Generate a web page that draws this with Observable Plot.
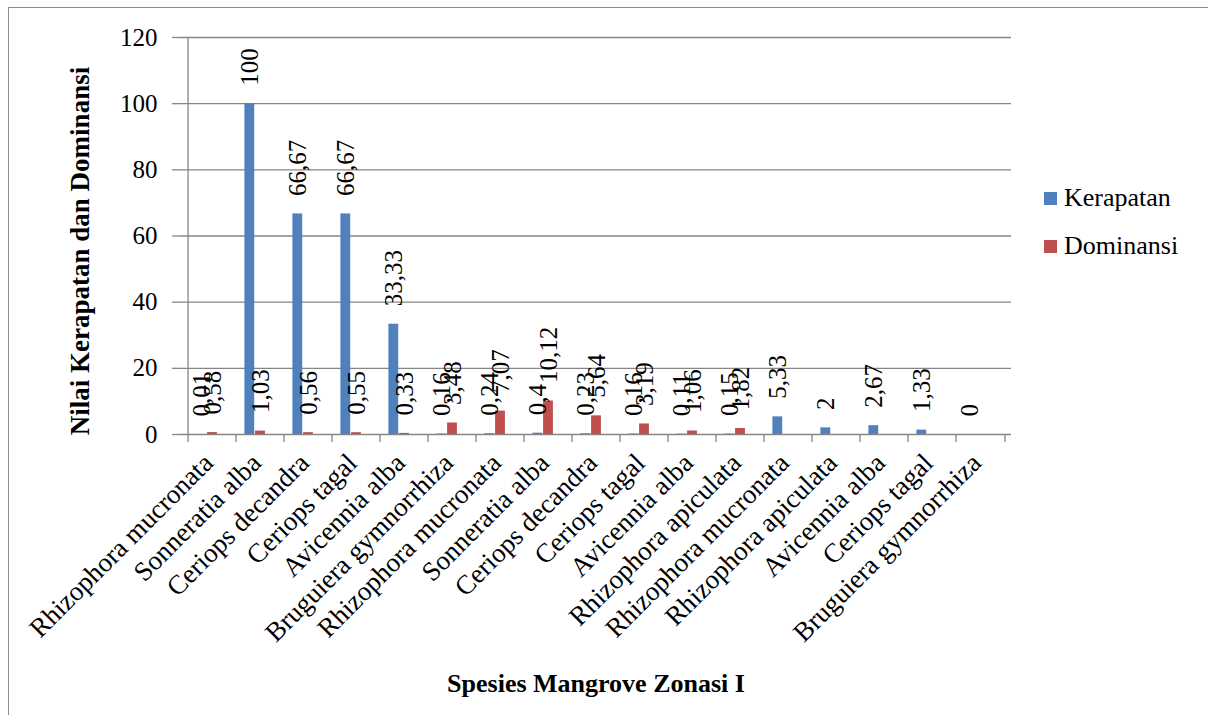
<!DOCTYPE html>
<html>
<head>
<meta charset="utf-8">
<script src="https://cdn.jsdelivr.net/npm/d3@7"></script>
<script src="https://cdn.jsdelivr.net/npm/@observablehq/plot@0.6"></script>
<style>
  body { margin: 0; background: #fff; }
  #wrap { position: relative; width: 1208px; height: 715px; overflow: hidden; background: #fff; }
  #frame { position: absolute; left: 8px; top: 7px; width: 1400px; height: 900px; border: 1px solid #8c8c8c; box-sizing: border-box; }
  #chart { position: absolute; left: 0; top: 0; }
  #chart svg text { font-family: "Liberation Serif", serif; font-variant: normal; }
  #legend { position: absolute; left: 1044px; top: 183px; }
  #legend .lg-swatches { font-family: "Liberation Serif", serif !important; font-size: 26px !important; color: #000; margin: 0 !important; }
  #legend .lg-swatch { display: flex !important; align-items: center; height: 30px; line-height: 30px; margin: 0 0 18px 0 !important; padding: 0 !important; }
  #legend .lg-swatch > svg { margin-right: 7px !important; }
</style>
</head>
<body>
<div id="wrap">
  <div id="frame"></div>
  <div id="chart"></div>
  <div id="legend"></div>
</div>
<script>
// ---- Data ----
const species = [
  "Rhizophora mucronata", "Sonneratia alba", "Ceriops decandra", "Ceriops tagal",
  "Avicennia alba", "Bruguiera gymnorrhiza", "Rhizophora mucronata", "Sonneratia alba",
  "Ceriops decandra", "Ceriops tagal", "Avicennia alba", "Rhizophora apiculata",
  "Rhizophora mucronata", "Rhizophora apiculata", "Avicennia alba", "Ceriops tagal",
  "Bruguiera gymnorrhiza"
];
const kerapatan = [0.01, 100, 66.67, 66.67, 33.33, 0.16, 0.24, 0.4, 0.23, 0.16, 0.11, 0.15, 5.33, 2, 2.67, 1.33, 0];
const dominansi = [0.58, 1.03, 0.56, 0.55, 0.33, 3.48, 7.07, 10.12, 5.64, 3.19, 1.06, 1.82, null, null, null, null, null];
const seriesNames = ["Kerapatan", "Dominansi"];
const seriesColors = ["#4F81BD", "#C0504D"];
const yTicks = [0, 20, 40, 60, 80, 100, 120];
const xTitle = "Spesies Mangrove Zonasi I";
const yTitle = "Nilai Kerapatan dan Dominansi";

// ---- Build table ----
const keys = species.map((s, i) => i);
const rowsK = [], rowsD = [];
keys.forEach(i => {
  if (kerapatan[i] != null) rowsK.push({key: i, series: seriesNames[0], value: kerapatan[i]});
  if (dominansi[i] != null) rowsD.push({key: i, series: seriesNames[1], value: dominansi[i]});
});
const fmt = v => String(v).replace(".", ",");

// ---- Layout ----
const W = 1208, H = 715, mL = 180, mR = 197, mT = 37, mB = 281;
const bw = (W - mL - mR) / keys.length;
const barW = 10.7;
const gray = "#868686";
const serif = "Liberation Serif";
const txt = {fontFamily: serif, fontVariant: "normal", fill: "#000"};

const chart = Plot.plot({
  width: W, height: H,
  marginLeft: mL, marginRight: mR, marginTop: mT, marginBottom: mB,
  style: {fontFamily: serif, color: "#000", background: "transparent", overflow: "visible"},
  x: {domain: keys, padding: 0},
  y: {domain: [0, 120]},
  color: {domain: seriesNames, range: seriesColors},
  marks: [
    Plot.ruleY(yTicks, {y: d => d, stroke: gray, strokeWidth: 1.3}),
    Plot.ruleX([keys[0]], {x: d => d, dx: -bw / 2, y1: 0, y2: 120, stroke: gray, strokeWidth: 1.3}),
    Plot.barY(rowsK, {x: "key", y: "value", fill: "series",
      insetLeft: bw / 2 - 1.5 * barW, insetRight: bw / 2 + 0.5 * barW}),
    Plot.barY(rowsD, {x: "key", y: "value", fill: "series",
      insetLeft: bw / 2 - 0.5 * barW, insetRight: bw / 2 - 0.5 * barW}),
    Plot.text(rowsK, {x: "key", y: "value", text: d => fmt(d.value), rotate: -90,
      textAnchor: "start", dx: -barW, dy: -18, fontSize: 25, ...txt}),
    Plot.text(rowsD, {x: "key", y: "value", text: d => fmt(d.value), rotate: -90,
      textAnchor: "start", dx: 0, dy: -18, fontSize: 25, ...txt}),
    // y axis ticks and labels
    Plot.axisY(yTicks, {tickSize: 8, tickFormat: () => "", stroke: gray, strokeWidth: 1.3, label: null}),
    Plot.axisY(yTicks, {tickSize: 0, tickPadding: 23, fontSize: 25, label: null, ...txt}),
    // x axis boundary ticks
    Plot.axisX(keys, {tickSize: 8, tickFormat: () => "", dx: -bw / 2, stroke: gray, strokeWidth: 1.3, label: null}),
    Plot.axisX([keys[keys.length - 1]], {tickSize: 8, tickFormat: () => "", dx: bw / 2, stroke: gray, strokeWidth: 1.3, label: null}),
    // x axis category labels
    Plot.axisX(keys, {tickSize: 0, tickPadding: 24, tickRotate: -45, fontSize: 27, dx: -4,
      tickFormat: i => species[i], label: null, ...txt}),
    // titles
    Plot.text([yTitle], {frameAnchor: "left", textAnchor: "middle", dx: -100, dy: 15, rotate: -90,
      fontSize: 27, fontWeight: "bold", ...txt}),
    Plot.text([xTitle], {frameAnchor: "bottom", textAnchor: "middle", dy: 257, fontSize: 26, fontWeight: "bold", ...txt})
  ]
});
document.getElementById("chart").appendChild(chart);

const legend = Plot.legend({
  color: {domain: seriesNames, range: seriesColors},
  swatchSize: 13, columns: 1, className: "lg"
});
document.getElementById("legend").appendChild(legend);
</script>
</body>
</html>
